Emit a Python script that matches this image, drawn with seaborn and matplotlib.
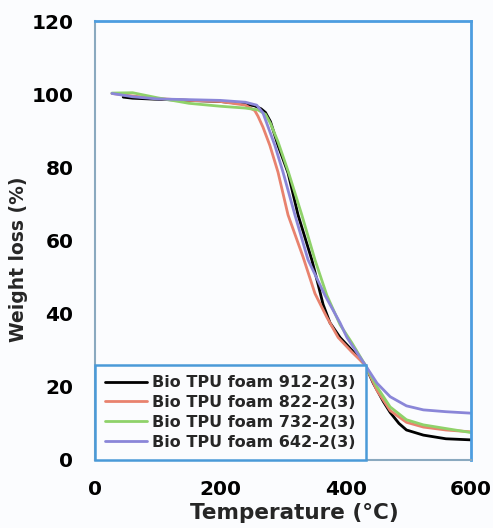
import matplotlib
matplotlib.use("Agg")
import matplotlib.pyplot as plt
import seaborn as sns
import pandas as pd

# TGA curves: temperature (°C) vs remaining weight (%)
temp_912 = [45, 60, 100, 150, 200, 240, 255, 265, 272, 280, 292, 308, 324, 346, 356, 364,
            375, 391, 410, 431, 444, 460, 471, 485, 497, 524, 560, 600]
wt_912 = [99.2, 98.9, 98.6, 98.3, 98.0, 97.3, 96.8, 96.0, 95.0, 92.5, 86.0, 78.5, 67.0, 54.7,
          48.0, 42.5, 37.5, 33.5, 30.0, 26.0, 21.0, 16.0, 13.0, 10.0, 8.2, 6.8, 5.8, 5.5]

temp_822 = [27, 60, 100, 150, 200, 240, 255, 260, 268, 279, 292, 308, 332, 351, 370, 388,
            410, 431, 450, 471, 497, 524, 560, 600]
wt_822 = [100.2, 99.5, 98.8, 98.3, 98.0, 97.0, 95.5, 94.0, 91.0, 86.0, 78.7, 67.0, 55.5,
          45.5, 39.0, 33.5, 29.5, 26.0, 19.0, 13.5, 10.3, 9.0, 8.2, 7.7]

temp_732 = [27, 60, 100, 150, 200, 240, 260, 272, 280, 292, 309, 330, 351, 370, 391, 410,
            431, 450, 471, 497, 524, 560, 600]
wt_732 = [100.3, 100.4, 99.0, 97.5, 96.7, 96.2, 95.7, 94.5, 92.0, 87.0, 78.5, 67.0, 54.7,
          45.0, 37.0, 32.0, 26.0, 20.0, 14.5, 11.0, 9.6, 8.6, 7.5]

temp_642 = [27, 60, 100, 150, 200, 240, 258, 268, 287, 300, 319, 340, 367, 391, 402, 431,
            450, 471, 497, 524, 560, 600]
wt_642 = [100.2, 99.3, 98.7, 98.5, 98.3, 97.8, 97.0, 94.9, 86.0, 78.7, 67.0, 54.7, 45.0,
          37.5, 33.5, 26.0, 21.0, 17.3, 14.8, 13.7, 13.2, 12.8]

labels = ["Bio TPU foam 912-2(3)", "Bio TPU foam 822-2(3)",
          "Bio TPU foam 732-2(3)", "Bio TPU foam 642-2(3)"]
colors = ["#000000", "#e8826e", "#8fd26a", "#8a86d8"]

x_ticks = [0, 200, 400, 600]
y_ticks = [0, 20, 40, 60, 80, 100, 120]

frames = []
for lab, t, w in zip(labels, [temp_912, temp_822, temp_732, temp_642],
                     [wt_912, wt_822, wt_732, wt_642]):
    frames.append(pd.DataFrame({"Temperature": t, "Weight": w, "Sample": lab}))
df = pd.concat(frames, ignore_index=True)

sns.set_style("white")
plt.rcParams["font.family"] = ["DejaVu Sans"]

fig = plt.figure(figsize=(4.93, 5.28), dpi=100)
fig.patch.set_facecolor("#fbfcfe")
ax = fig.add_axes([0.1927, 0.1288, 0.7627, 0.8314])
ax.set_facecolor("#fbfcfe")

sns.lineplot(data=df, x="Temperature", y="Weight", hue="Sample", hue_order=labels,
             palette=colors, linewidth=2, ax=ax, legend=True)

ax.set_xlim(0, 600)
ax.set_ylim(0, 120)
ax.set_xticks(x_ticks)
ax.set_yticks(y_ticks)
ax.tick_params(axis="both", direction="out", colors="#8aa9bf", labelcolor="black",
               labelsize=14.5, width=1.3)
ax.tick_params(axis="x", length=3.6, pad=11)
ax.tick_params(axis="y", length=5.5, pad=10)
for lab in ax.get_xticklabels() + ax.get_yticklabels():
    lab.set_fontweight("bold")

for side in ["top", "right"]:
    ax.spines[side].set_color("#4d9de0")
    ax.spines[side].set_linewidth(2)
for side in ["left", "bottom"]:
    ax.spines[side].set_color("#8aa9bf")
    ax.spines[side].set_linewidth(1.5)

ax.set_xlabel("Temperature (°C)", fontsize=15.5, fontweight="bold")
ax.set_ylabel("Weight loss (%)", fontsize=13.5, fontweight="bold")
ax.xaxis.set_label_coords(0.529, -0.098)
ax.yaxis.set_label_coords(-0.178, 0.458)

leg = ax.legend(loc="lower left", bbox_to_anchor=(0, 0), borderaxespad=0,
                fancybox=False, framealpha=1, facecolor="#fbfcfe",
                edgecolor="#4a9ad8", handlelength=2.6, handletextpad=0.3,
                labelspacing=0.3, borderpad=0.65,
                prop={"weight": "bold", "size": 11.5})
leg.get_frame().set_linewidth(1.8)

fig.savefig("out.png", dpi=100, facecolor=fig.get_facecolor())
